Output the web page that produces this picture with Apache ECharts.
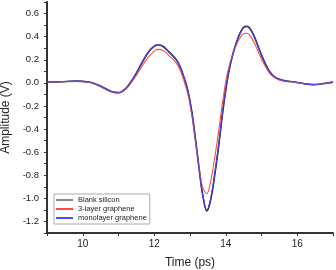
<!DOCTYPE html>
<html><head><meta charset="utf-8">
<script src="https://cdn.jsdelivr.net/npm/echarts@6/dist/echarts.min.js"></script>
<style>html,body{margin:0;padding:0;background:#fff}#c{width:336px;height:270px}</style>
</head><body><div id="c"></div>
<script>
var time = [9.0, 9.4, 9.8, 10.2, 10.4, 10.6, 10.8, 11.0, 11.2, 11.35, 11.5, 11.65, 11.8, 11.95, 12.1, 12.25, 12.4, 12.55, 12.65, 12.75, 12.85, 12.95, 13.05, 13.15, 13.25, 13.35, 13.47, 13.58, 13.7, 13.8, 13.92, 14.03, 14.1, 14.2, 14.3, 14.4, 14.5, 14.6, 14.7, 14.8, 14.9, 15.0, 15.1, 15.2, 15.3, 15.4, 15.5, 15.7, 15.9, 16.2, 16.45, 16.7, 17.0];
var blankSilicon = [0.005, 0.01, 0.015, 0.005, -0.015, -0.045, -0.075, -0.085, -0.05, 0.01, 0.085, 0.17, 0.25, 0.305, 0.33, 0.315, 0.27, 0.225, 0.185, 0.12, 0.03, -0.08, -0.25, -0.48, -0.73, -0.96, -1.11, -1.01, -0.78, -0.55, -0.24, 0.0, 0.12, 0.25, 0.35, 0.43, 0.48, 0.49, 0.46, 0.40, 0.32, 0.24, 0.17, 0.11, 0.07, 0.045, 0.03, 0.015, 0.008, -0.008, -0.015, -0.008, 0.006];
var threeLayer = [0.005, 0.01, 0.014, 0.003, -0.018, -0.05, -0.078, -0.085, -0.055, 0.0, 0.065, 0.14, 0.21, 0.26, 0.29, 0.28, 0.24, 0.195, 0.155, 0.09, 0.0, -0.11, -0.28, -0.5, -0.72, -0.9, -0.96, -0.85, -0.63, -0.42, -0.15, 0.06, 0.15, 0.25, 0.33, 0.39, 0.425, 0.43, 0.40, 0.345, 0.275, 0.205, 0.145, 0.095, 0.06, 0.04, 0.025, 0.013, 0.006, -0.008, -0.015, -0.008, 0.006];
var monolayer = [0.005, 0.01, 0.015, 0.005, -0.016, -0.046, -0.076, -0.087, -0.052, 0.008, 0.083, 0.168, 0.248, 0.305, 0.332, 0.317, 0.272, 0.226, 0.186, 0.12, 0.028, -0.083, -0.255, -0.485, -0.735, -0.96, -1.10, -1.0, -0.77, -0.54, -0.23, 0.005, 0.12, 0.25, 0.35, 0.428, 0.477, 0.486, 0.457, 0.398, 0.318, 0.238, 0.168, 0.108, 0.068, 0.044, 0.029, 0.015, 0.008, -0.008, -0.015, -0.008, 0.006];
var seriesNames = ['Blank silicon', '3-layer graphene', 'monolayer graphene'];
var seriesColors = ['#1a1a2a', '#ff4a4a', '#4a4aff'];

function pairs(v){ return time.map(function(t,i){ return [t, v[i]]; }); }
var font = 'Liberation Sans, Arial, sans-serif';
var chart = echarts.init(document.getElementById('c'), null, {renderer:'canvas'});
chart.setOption({
  animation:false,
  backgroundColor:'#fff',
  grid:{left:47, right:3, top:2, bottom:37, outerBoundsMode:'none', containLabel:false},
  legend:{
    orient:'vertical', left:54, top:194, itemWidth:17, itemHeight:2, itemGap:1,
    padding:[2,3,2,2], borderColor:'#aaa', borderWidth:1,
    textStyle:{fontSize:7.5, fontFamily:font, color:'#222'},
    data:[
      {name:seriesNames[0], icon:'rect', itemStyle:{color:'#8a8a8a'}},
      {name:seriesNames[1], icon:'rect', itemStyle:{color:seriesColors[1]}},
      {name:seriesNames[2], icon:'rect', itemStyle:{color:seriesColors[2]}}
    ]
  },
  xAxis:{
    type:'value', min:9, max:17, interval:1,
    name:'Time (ps)', nameLocation:'middle', nameGap:24,
    nameTextStyle:{fontSize:12, fontFamily:font, color:'#222'},
    axisLine:{onZero:false, lineStyle:{color:'#333', width:2}},
    axisTick:{length:3, lineStyle:{color:'#333', width:1}},
    axisLabel:{fontSize:10, fontFamily:font, color:'#222', margin:6,
      formatter:function(v){ return (Math.round(v)%2===0)? String(Math.round(v)) : ''; }},
    splitLine:{show:false}
  },
  yAxis:{
    type:'value', min:-1.3, max:0.7, interval:0.1,
    name:'Amplitude (V)', nameLocation:'middle', nameGap:33,
    nameTextStyle:{fontSize:12, fontFamily:font, color:'#222'},
    axisLine:{show:true, onZero:false, lineStyle:{color:'#333', width:2}},
    axisTick:{show:true, length:3, lineStyle:{color:'#333', width:1}},
    axisLabel:{fontSize:9.5, fontFamily:font, color:'#222', margin:8,
      formatter:function(v){ var k=Math.round(v*10); if(Math.abs(k)%2!==0||k===-13||k===7) return ''; return (k/10).toFixed(1); }},
    splitLine:{show:false}
  },
  series:[
    {name:seriesNames[0], type:'line', data:pairs(blankSilicon), smooth:0.35, showSymbol:false, lineStyle:{color:seriesColors[0], width:1.6}, itemStyle:{color:seriesColors[0]}},
    {name:seriesNames[1], type:'line', data:pairs(threeLayer), smooth:0.35, showSymbol:false, lineStyle:{color:seriesColors[1], width:1.1}, itemStyle:{color:seriesColors[1]}},
    {name:seriesNames[2], type:'line', data:pairs(monolayer), smooth:0.35, showSymbol:false, lineStyle:{color:seriesColors[2], width:1.1, opacity:0.85}, itemStyle:{color:seriesColors[2]}}
  ]
});
</script></body></html>
